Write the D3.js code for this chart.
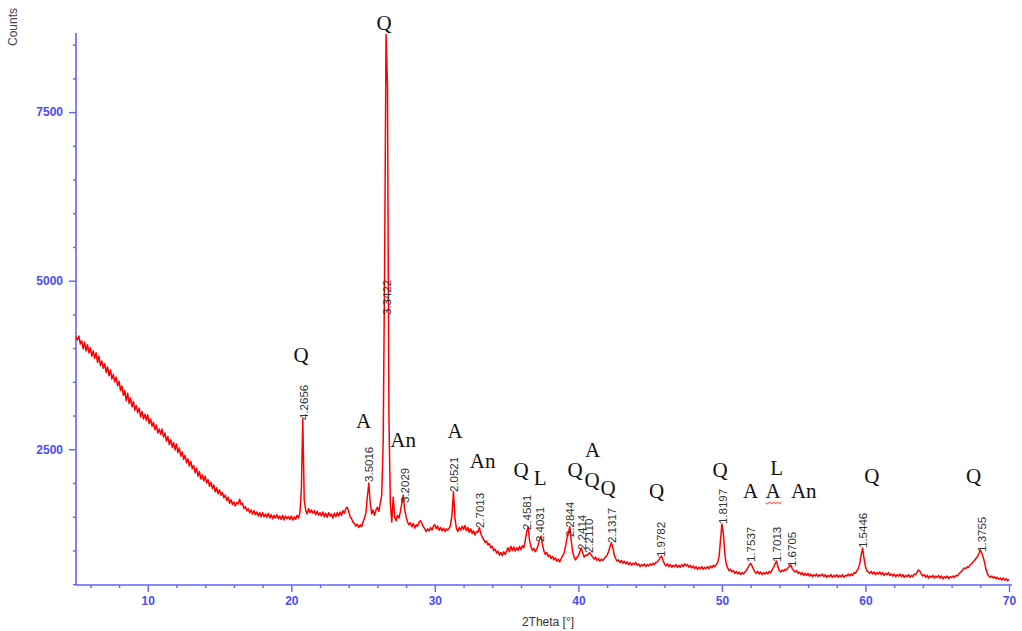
<!DOCTYPE html>
<html><head><meta charset="utf-8">
<script src="https://cdn.jsdelivr.net/npm/d3@7"></script>
<style>
html,body{margin:0;padding:0;background:#fff;}
svg{display:block;}
</style></head>
<body><svg id="chart" width="1022" height="631"></svg>
<script>
// ---- data ----
const twoThetaStart = 5;
const twoThetaStep = 0.1;
const counts = [
4170,4120,4180,4060,4110,3990,4090,3960,4050,3930,
4010,3880,3960,3850,3930,3790,3880,3740,3810,3700,
3770,3640,3720,3590,3680,3540,3610,3500,3570,3440,
3510,3370,3440,3300,3370,3220,3330,3180,3260,3130,
3210,3080,3150,3040,3110,2980,3060,2950,3020,2930,
3010,2880,2950,2840,2900,2790,2860,2740,2800,2720,
2800,2680,2740,2620,2690,2570,2640,2530,2600,2490,
2580,2450,2520,2400,2460,2350,2410,2300,2360,2250,
2320,2210,2260,2150,2220,2100,2170,2060,2120,2030,
2100,2000,2050,1950,2010,1920,1970,1870,1930,1840,
1900,1820,1860,1780,1820,1740,1790,1700,1750,1680,
1720,1660,1710,1690,1760,1680,1700,1620,1650,1590,
1620,1560,1600,1540,1590,1530,1570,1510,1560,1500,
1560,1500,1540,1490,1550,1480,1530,1470,1520,1480,
1530,1470,1510,1460,1520,1450,1510,1470,1500,1460,
1510,1450,1500,1460,1520,1480,1560,1900,2950,1750,
1600,1540,1620,1560,1600,1550,1590,1530,1580,1520,
1560,1510,1570,1500,1550,1490,1560,1510,1540,1480,
1550,1500,1560,1510,1570,1520,1590,1550,1620,1640,
1580,1500,1470,1420,1400,1360,1390,1340,1380,1350,
1420,1480,1560,1800,2000,1700,1540,1600,1520,1600,
1640,1580,1700,1820,2600,5200,8650,7900,3000,1700,
1420,1790,1500,1440,1520,1480,1580,1700,1820,1600,
1500,1420,1380,1410,1350,1400,1330,1380,1360,1420,
1440,1400,1350,1320,1280,1320,1290,1340,1300,1360,
1380,1320,1360,1300,1340,1290,1330,1280,1320,1300,
1330,1380,1550,1870,1480,1330,1280,1340,1300,1360,
1310,1370,1290,1340,1270,1320,1250,1290,1230,1280,
1270,1340,1250,1200,1160,1120,1140,1080,1100,1040,
1060,1000,1020,960,990,930,970,920,980,940,
990,1040,980,1060,1000,1050,990,1040,1000,1060,
1010,1070,1040,1150,1280,1345,1150,1050,1000,1030,
980,1020,1080,1160,1214,1080,990,940,970,910,
930,880,910,860,890,840,870,830,880,920,
960,1050,1180,1250,1352,1150,980,900,860,900,
920,980,1036,960,900,930,920,950,966,930,
900,870,900,850,880,840,870,850,880,900,
930,980,1050,1115,1040,930,880,840,860,820,
850,810,840,800,830,790,820,780,810,790,
820,780,800,760,790,770,800,760,790,770,
800,780,810,790,820,830,860,900,917,850,
800,770,800,760,790,750,780,760,790,750,
780,750,790,760,800,770,790,750,780,740,
770,730,760,720,750,730,760,720,750,730,
760,730,770,740,780,760,790,820,900,1150,
1392,1250,950,800,740,700,720,680,700,660,
690,650,680,640,670,650,680,700,740,780,
809,770,720,680,660,690,650,680,640,670,
650,680,650,690,670,710,750,800,843,760,
700,680,710,690,720,710,740,760,784,730,
700,680,700,660,680,640,670,630,660,630,
660,620,650,610,640,620,650,610,640,620,
650,610,640,600,630,610,640,600,630,610,
640,600,630,610,640,600,630,620,650,620,
650,630,670,660,700,730,800,930,1036,880,
760,700,680,660,690,650,680,640,670,650,
680,640,670,630,660,640,670,630,650,620,
650,610,640,620,650,610,640,600,630,610,
640,600,630,610,650,640,680,710,690,650,
620,640,600,630,590,620,600,630,590,620,
600,630,590,620,580,610,590,620,580,610,
600,620,600,630,620,650,670,690,720,740,
730,760,750,790,800,830,850,880,910,950,
1006,960,900,820,720,650,620,600,620,590,
610,580,600,570,590,560,590,560,580,550,
570
];

// d-spacing peak annotations (value, 2Theta position, intensity at label foot)
const dLabels = ["4.2656","3.5016","3.3422","3.2029","2.0521","2.7013","2.4581","2.4031","2.2844","2.2414","2.2110","2.1317","1.9782","1.8197","1.7537","1.7013","1.6705","1.5446","1.3755"];
const dTheta  = [20.85,25.42,26.65,27.9,31.3,33.15,36.43,37.33,39.42,40.24,40.75,42.35,45.77,50.09,52.03,53.85,54.9,59.84,68.13];
const dCounts = [2934,2015,4491,1703,1866,1332,1302,1124,1198,1006,962,1110,902,1391,828,828,754,1036,977];

// phase identification labels
const phaseText   = ["Q","Q","A","An","A","An","Q","L","Q","A","Q","Q","Q","Q","A","L","A","An","Q","Q"];
const phaseTheta  = [20.68,26.46,25.03,27.79,31.41,33.33,36.01,37.33,39.77,40.99,40.96,42.07,45.45,49.88,52.0,53.81,53.57,55.7,60.44,67.54];
const phaseCounts = [3794,8718,2816,2534,2667,2222,2089,1970,2089,2385,1940,1822,1778,2089,1778,2119,1778,1778,2000,2000];
const phaseUnderlined = [16];

const xMajorTicks = [10,20,30,40,50,60,70];
const yMajorTicks = [2500,5000,7500];
const xTitle = "2Theta [°]";
const yTitle = "Counts";

// ---- drawing ----
const svg = d3.select("#chart");
const x = d3.scaleLinear().domain([5,70]).range([76,1009]);
const y = d3.scaleLinear().domain([487,8673]).range([585,33]);
const axisColor = "#6262ff";
const labelColor = "#4a4aff";

// minor ticks
const xMinor = d3.range(6,70,2).filter(v=>v%10!==0);
const yMinor = d3.range(500,8673,500).filter(v=>yMajorTicks.indexOf(v)<0);

const gx = svg.append("g").attr("transform","translate(0,585)");
gx.call(d3.axisBottom(x).tickValues(xMinor).tickSize(3).tickSizeOuter(0).tickFormat(""));
gx.call(g=>g.select(".domain").remove());
const gx2 = svg.append("g").attr("transform","translate(0,585)")
  .call(d3.axisBottom(x).tickValues(xMajorTicks).tickSize(7).tickSizeOuter(0).tickPadding(4).tickFormat(d3.format("d")));
gx2.select(".domain").attr("d","M76,0H1012");

const gy = svg.append("g").attr("transform","translate(76,0)");
gy.call(d3.axisLeft(y).tickValues(yMinor).tickSize(3).tickSizeOuter(0).tickFormat(""));
gy.call(g=>g.select(".domain").remove());
const gy2 = svg.append("g").attr("transform","translate(76,0)")
  .call(d3.axisLeft(y).tickValues(yMajorTicks).tickSize(7).tickSizeOuter(0).tickPadding(6).tickFormat(d3.format("d")));
gy2.select(".domain").attr("d","M0,585V33");

svg.selectAll(".domain").attr("stroke",axisColor).attr("stroke-width",1.6);
svg.selectAll(".tick line").attr("stroke",axisColor).attr("stroke-width",1.4);
svg.selectAll(".tick text").attr("fill",labelColor).attr("font-family","Liberation Sans, Arial, sans-serif")
   .attr("font-size","12px").attr("font-weight","bold");

// titles
svg.append("text").attr("transform","translate(17,27) rotate(-90)").attr("text-anchor","middle")
  .attr("font-family","Liberation Sans, Arial, sans-serif").attr("font-size","12px").attr("fill","#444").text(yTitle);
svg.append("text").attr("x",548).attr("y",626).attr("text-anchor","middle")
  .attr("font-family","Liberation Sans, Arial, sans-serif").attr("font-size","12px").attr("fill","#333").text(xTitle);

// pattern
const line = d3.line().x((d,i)=>x(twoThetaStart + i*twoThetaStep)).y(d=>y(d));
svg.append("path").datum(counts).attr("d",line).attr("fill","none")
  .attr("stroke","#ff0000").attr("stroke-width",1.5).attr("stroke-linejoin","round");

// d-spacing labels
dLabels.forEach((t,i)=>{
  svg.append("text")
    .attr("transform",`translate(${x(dTheta[i])},${y(dCounts[i])}) rotate(-90)`)
    .attr("dy","0.35em").attr("text-anchor","start")
    .attr("font-family","Liberation Sans, Arial, sans-serif").attr("font-size","11.5px")
    .attr("fill","#333").text(t);
});

// phase labels
phaseText.forEach((t,i)=>{
  const tx = svg.append("text").attr("x",x(phaseTheta[i])).attr("y",y(phaseCounts[i]))
    .attr("text-anchor","middle").attr("font-family","Liberation Serif, Times New Roman, serif")
    .attr("font-size","21px").attr("fill","#111").text(t);
  if (phaseUnderlined.indexOf(i)>=0){
    const bb = tx.node().getBBox();
    const y0 = y(phaseCounts[i]) + 5;
    let p = `M${bb.x},${y0}`;
    for (let k=0, xx=bb.x; xx<bb.x+bb.width; k++){ xx+=2; p += `L${xx},${y0 + (k%2? -1.2:1.2)}`; }
    svg.append("path").attr("d",p).attr("fill","none").attr("stroke","#e03030").attr("stroke-width",0.9);
  }
});
</script>
</body></html>
